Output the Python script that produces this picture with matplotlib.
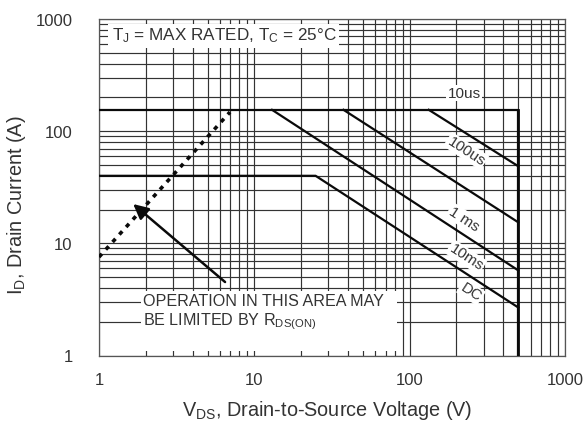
import matplotlib
matplotlib.use("Agg")
import matplotlib.pyplot as plt
from matplotlib.patches import Rectangle

plt.rcParams['font.family'] = ['Liberation Sans', 'DejaVu Sans']
plt.rcParams['mathtext.default'] = 'regular'

# ---- data ----
v_10us = [1, 500, 500]
i_10us = [155, 155, 1]
v_100us = [132.7, 500]
i_100us = [155, 48.7]
v_1ms = [37.5, 500]
i_1ms = [155, 15.4]
v_10ms = [13.0, 500]
i_10ms = [155, 5.74]
v_dc = [1, 24.8, 500]
i_dc = [40, 40, 2.68]
v_rds = [1, 6.97]
i_rds = [7.55, 148]
arrow_tail = (6.48, 4.52)
arrow_head = (1.66, 22.4)

curve_labels = ["10us", "100us", "1 ms", "10ms", "DC"]
label_v = [224, 231, 224, 231, 248]
label_i = [219, 66.5, 16.5, 7.55, 3.68]
label_rot = [0, -33, -33, -33, -33]

tick_vals = [1, 10, 100, 1000]
tick_labels = ["1", "10", "100", "1000"]

W, H = 588, 427
fig = plt.figure(figsize=(W / 100, H / 100), dpi=100)
L, R, T, B = 99, 565, 20, 356.5
ax = fig.add_axes([L / W, (H - B) / H, (R - L) / W, (B - T) / H])
ax.set_xscale('log')
ax.set_yscale('log')
ax.set_xlim(1, 1000)
ax.set_ylim(1, 1000)
ax.set_xticks(tick_vals)
ax.set_xticklabels(tick_labels)
ax.set_yticks(tick_vals)
ax.set_yticklabels(tick_labels)
ax.grid(True, which='both', color='#333333', lw=0.85)
ax.tick_params(which='both', length=0, labelsize=12, colors='#333333')
ax.tick_params(axis='x', pad=12)
ax.tick_params(axis='y', pad=19)
for s in ax.spines.values():
    s.set_color('#555555')
    s.set_linewidth(0.9)

def px_to_axes(px, py):
    return ((px - L) / (R - L), (B - py) / (B - T))

# white masks behind the two text blocks
x0, y0 = px_to_axes(108, 49)
x1, y1 = px_to_axes(339, 25)
ax.add_patch(Rectangle((x0, y0), x1 - x0, y1 - y0, transform=ax.transAxes,
                       facecolor='white', edgecolor='none', zorder=1.8))
x0, y0 = px_to_axes(141, 352)
x1, y1 = px_to_axes(397, 292)
ax.add_patch(Rectangle((x0, y0), x1 - x0, y1 - y0, transform=ax.transAxes,
                       facecolor='white', edgecolor='none', zorder=1.8))

lc = '#0a0a0a'
ax.plot(v_10us, i_10us, color=lc, lw=1.6, zorder=3)
ax.plot([500, 500], [155, 1], color=lc, lw=2.0, zorder=3)
ax.plot(v_100us, i_100us, color=lc, lw=1.6, zorder=3)
ax.plot(v_1ms, i_1ms, color=lc, lw=1.6, zorder=3)
ax.plot(v_10ms, i_10ms, color=lc, lw=1.6, zorder=3)
ax.plot(v_dc, i_dc, color=lc, lw=1.6, zorder=3)
ax.plot(v_rds, i_rds, color=lc, lw=2.6, linestyle=(0, (1.2, 1.6)), zorder=3)
ax.annotate("", xy=arrow_head, xytext=arrow_tail,
            arrowprops=dict(arrowstyle='-|>,head_length=0.9,head_width=0.45',
                            color=lc, lw=1.8, shrinkA=0, shrinkB=0), zorder=3)

for txt, v, i, r in zip(curve_labels, label_v, label_i, label_rot):
    ax.text(v, i, txt, rotation=r, rotation_mode='anchor', ha='center', va='center',
            fontsize=11, color='#333333', zorder=2.5,
            bbox=dict(facecolor='white', edgecolor='none', pad=1.0))

tx, ty = px_to_axes(112, 36)
ax.text(tx, ty, "T$_J$ = MAX RATED, T$_C$ = 25°C", transform=ax.transAxes,
        ha='left', va='center', fontsize=12.3, color='#333333', zorder=2.5)
tx, ty = px_to_axes(143, 302)
ax.text(tx, ty, "OPERATION IN THIS AREA MAY", transform=ax.transAxes,
        ha='left', va='center', fontsize=11.6, color='#333333', zorder=2.5)
tx, ty = px_to_axes(143, 322)
ax.text(tx, ty, "BE LIMITED BY R$_{DS(ON)}$", transform=ax.transAxes,
        ha='left', va='center', fontsize=11.6, color='#333333', zorder=2.5)

ax.set_xlabel("V$_{DS}$, Drain-to-Source Voltage (V)", fontsize=14.3, color='#333333')
ax.set_ylabel("I$_D$, Drain Current (A)", fontsize=14.3, color='#333333')
ax.xaxis.set_label_coords(*px_to_axes(327, 411))
ax.yaxis.set_label_coords(*px_to_axes(17, 205))
ax.xaxis.label.set_va('center')
ax.yaxis.label.set_va('center')

fig.savefig("out.png", dpi=100)
